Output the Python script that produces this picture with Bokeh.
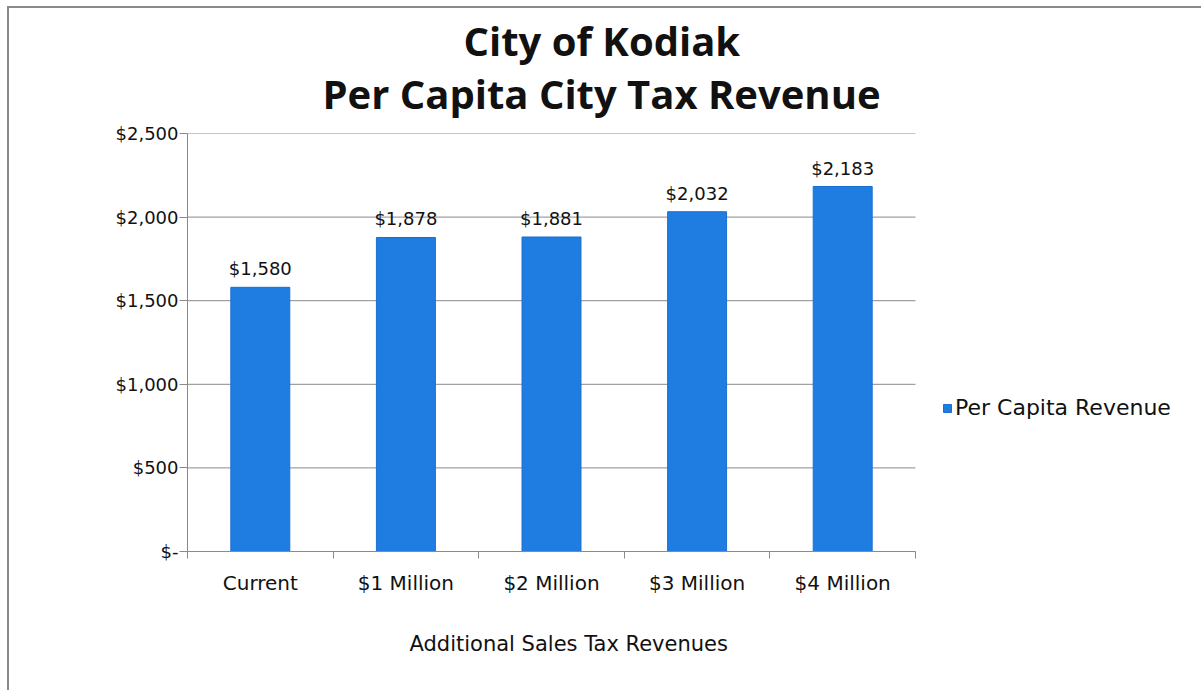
from bokeh.plotting import figure
from bokeh.layouts import column
from bokeh.models import (Range1d, FixedTicker, Legend, LegendItem, Title,
                          ColumnDataSource)
from bokeh.core.properties import value
from bokeh.embed import file_html
from bokeh.resources import INLINE

# Per capita city tax revenue under each additional sales tax scenario
categories = ["Current", "$1 Million", "$2 Million", "$3 Million", "$4 Million"]
revenue = [1580, 1878, 1881, 2032, 2183]
y_ticks = [0, 500, 1000, 1500, 2000, 2500]
y_tick_labels = ["$-", "$500", "$1,000", "$1,500", "$2,000", "$2,500"]

BAR = "#1f7de2"
GRID = "#8a8a8a"
INK = "#111111"
FONT = "DejaVu Sans"

n = len(categories)
x_centers = [i + 0.5 for i in range(n)]
source = ColumnDataSource(dict(
    x=x_centers,
    top=revenue,
    label=[f"${v:,}" for v in revenue],
))

# plot area: categories occupy 0..n, the space to their right holds the legend
PLOT_W, PLOT_H = 1192, 682
BORDER_L, BORDER_R, BORDER_T, BORDER_B = 178, 5, 125, 139
CAT_PX = 145.6
x_end = (PLOT_W - BORDER_L - BORDER_R) / CAT_PX

p = figure(width=PLOT_W, height=PLOT_H, output_backend="svg", toolbar_location=None,
           x_range=Range1d(0, x_end), y_range=Range1d(0, 2500),
           min_border_left=BORDER_L, min_border_right=BORDER_R,
           min_border_top=BORDER_T, min_border_bottom=BORDER_B)
p.title = None
p.outline_line_color = None
p.background_fill_color = "white"
p.border_fill_color = "white"

# horizontal gridlines across the category area only
p.segment(x0=0, x1=n, y0=y_ticks, y1=y_ticks, line_color=GRID, line_width=1)

bars = p.vbar(x="x", top="top", width=0.405, source=source,
              fill_color=BAR, line_color="#1a6fd0", line_width=1)

p.text(x="x", y="top", text="label", source=source, y_offset=-8,
       text_align="center", text_baseline="bottom",
       text_font=value(FONT), text_font_size="18px", text_color=INK)

# y axis: dollar ticks
p.yaxis.ticker = FixedTicker(ticks=y_ticks)
p.yaxis.major_label_overrides = dict(zip(y_ticks, y_tick_labels))
p.yaxis.axis_line_color = GRID
p.yaxis.major_tick_line_color = GRID
p.yaxis.major_tick_out = 8
p.yaxis.major_tick_in = 0
p.yaxis.minor_tick_line_color = None
p.yaxis.major_label_standoff = 1
p.yaxis.major_label_text_font = FONT
p.yaxis.major_label_text_font_size = "18px"
p.yaxis.major_label_text_color = INK
p.grid.grid_line_color = None

# x axis: labels centred on bars, tick marks between categories
p.xaxis.bounds = (0, n)
p.xaxis.ticker = FixedTicker(ticks=x_centers, minor_ticks=list(range(n + 1)))
p.xaxis.major_label_overrides = dict(zip(x_centers, categories))
p.xaxis.axis_line_color = GRID
p.xaxis.major_tick_line_color = None
p.xaxis.major_tick_out = 0
p.xaxis.major_tick_in = 0
p.xaxis.minor_tick_line_color = GRID
p.xaxis.minor_tick_out = 7
p.xaxis.minor_tick_in = 0
p.xaxis.major_label_standoff = 12
p.xaxis.major_label_text_font = FONT
p.xaxis.major_label_text_font_size = "20px"
p.xaxis.major_label_text_color = INK

# x axis title
p.add_layout(Title(text="Additional Sales Tax Revenues", align="left", offset=222,
                   text_font=FONT, text_font_size="21px", text_font_style="normal",
                   text_color=INK, standoff=64), "below")

# two-line bold title, centred over the whole chart
p.add_layout(Title(text="Per Capita City Tax Revenue", align="left", offset=135,
                   text_font="Open Sans", text_font_size="40px",
                   text_font_style="bold", text_color=INK, standoff=26), "above")
p.add_layout(Title(text="City of Kodiak", align="left", offset=276,
                   text_font="Open Sans", text_font_size="40px",
                   text_font_style="bold", text_color=INK, standoff=-35), "above")

legend = Legend(items=[LegendItem(label="Per Capita Revenue", renderers=[bars])],
                location=(755, 131), orientation="vertical",
                glyph_width=10, glyph_height=10, label_standoff=3,
                padding=0, margin=0, border_line_color=None,
                background_fill_alpha=0,
                label_text_font=FONT, label_text_font_size="22px",
                label_text_color=INK)
p.add_layout(legend, "center")

# thin frame drawn around the chart
page = column(p, styles={"margin-left": "7px", "margin-top": "6px",
                         "border-left": f"2px solid {GRID}",
                         "border-top": f"2px solid {GRID}"})

open("out.html", "w").write(file_html(page, INLINE))
